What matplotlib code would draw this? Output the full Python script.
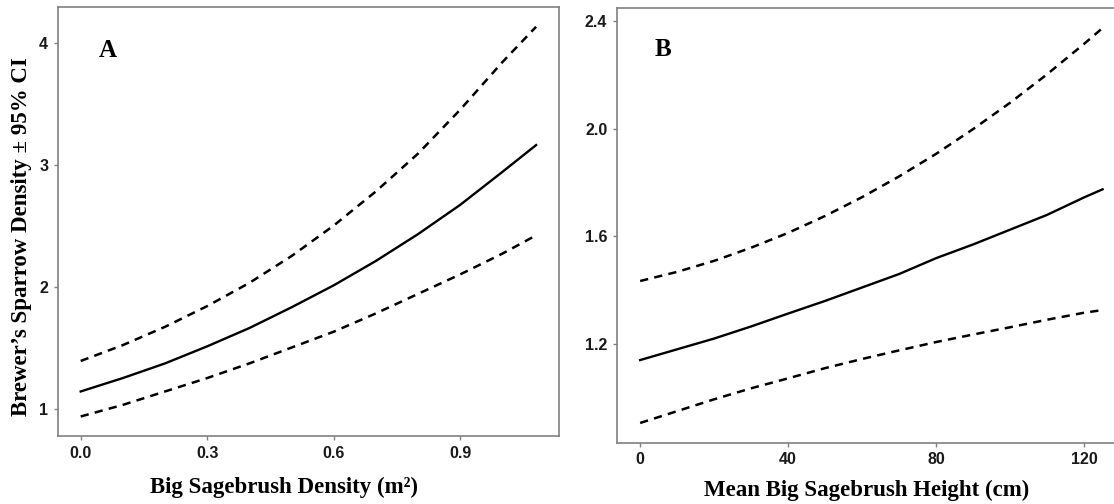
import numpy as np
from matplotlib import pyplot as plt

# panel A: big sagebrush density (m^2)
dens_x = [0.0, 0.1, 0.2, 0.3, 0.4, 0.5, 0.6, 0.7, 0.8, 0.9, 1.0, 1.08]
dens_fit = [1.14, 1.25, 1.37, 1.51, 1.66, 1.83, 2.01, 2.21, 2.43, 2.67, 2.94, 3.16]
dens_hi = [1.39, 1.52, 1.67, 1.84, 2.03, 2.25, 2.50, 2.78, 3.09, 3.45, 3.84, 4.13]
dens_lo = [0.935, 1.03, 1.14, 1.25, 1.37, 1.50, 1.63, 1.78, 1.94, 2.10, 2.27, 2.42]

# panel B: mean big sagebrush height (cm)
hgt_x = [0, 10, 20, 30, 40, 50, 60, 70, 80, 90, 100, 110, 120, 125]
hgt_fit = [1.14, 1.18, 1.22, 1.265, 1.313, 1.36, 1.41, 1.46, 1.519, 1.57, 1.625, 1.68, 1.745, 1.775]
hgt_hi = [1.434, 1.468, 1.509, 1.558, 1.613, 1.676, 1.746, 1.823, 1.907, 1.999, 2.097, 2.203, 2.316, 2.375]
hgt_lo = [0.906, 0.95, 0.994, 1.035, 1.072, 1.11, 1.144, 1.176, 1.207, 1.235, 1.262, 1.29, 1.316, 1.326]

xticks_a = [0.0, 0.3, 0.6, 0.9]
yticks_a = [1, 2, 3, 4]
xticks_b = [0, 40, 80, 120]
yticks_b = [1.2, 1.6, 2.0, 2.4]

serif = 'Liberation Serif'
sans = 'Liberation Sans'

fig = plt.figure(figsize=(11.14, 5.04), dpi=100)
ax1 = fig.add_axes([0.052, 0.135, 0.4497, 0.8506])
ax2 = fig.add_axes([0.5539, 0.1216, 0.4566, 0.862])


def draw_panel(ax, x, fit, lo, hi, xt, yt, xfmt, yfmt, letter, lx, ly):
    ax.plot(x, fit, color='black', lw=1.7, solid_joinstyle='round')
    for y in (lo, hi):
        ax.plot(x, y, color='black', lw=1.8, dashes=(3.3, 2.5),
                dash_joinstyle='round')
    xr = max(x) - min(x)
    ax.set_xlim(min(x) - 0.05 * xr, max(x) + 0.05 * xr)
    ymin, ymax = min(lo), max(hi)
    yr = ymax - ymin
    ax.set_ylim(ymin - 0.05 * yr, ymax + 0.05 * yr)
    ax.set_xticks(xt)
    ax.set_yticks(yt)
    ax.set_xticklabels([xfmt.format(v) for v in xt])
    ax.set_yticklabels([yfmt.format(v) for v in yt])
    for s in ax.spines.values():
        s.set_color('#808080')
        s.set_linewidth(1.2)
    ax.tick_params(length=3, width=1, color='#808080', pad=4)
    for lab in ax.get_xticklabels() + ax.get_yticklabels():
        lab.set_fontfamily(sans)
        lab.set_fontweight('bold')
        lab.set_fontsize(11.5)
        lab.set_color('#1a1a1a')
    ax.text(lx, ly, letter, transform=ax.transAxes, fontfamily=serif,
            fontweight='bold', fontsize=18, ha='center', va='center')


draw_panel(ax1, dens_x, dens_fit, dens_lo, dens_hi, xticks_a, yticks_a,
           '{:.1f}', '{:d}', 'A', 0.099, 0.899)
draw_panel(ax2, hgt_x, hgt_fit, hgt_lo, hgt_hi, xticks_b, yticks_b,
           '{:d}', '{:.1f}', 'B', 0.090, 0.904)

ax1.set_xlabel('Big Sagebrush Density (m\u00b2)', fontfamily=serif,
               fontweight='bold', fontsize=16.5, va='center')
ax1.xaxis.set_label_coords(0.451, -0.121)
ax1.set_ylabel('Brewer\u2019s Sparrow Density \u00b1 95% CI', fontfamily=serif,
               fontweight='bold', fontsize=16.5, va='center')
ax1.yaxis.set_label_coords(-0.072, 0.465)

ax2.set_xlabel('Mean Big Sagebrush Height (cm)', fontfamily=serif,
               fontweight='bold', fontsize=16.5, va='center')
ax2.xaxis.set_label_coords(0.49, -0.109)

fig.savefig('out.png', dpi=100)
